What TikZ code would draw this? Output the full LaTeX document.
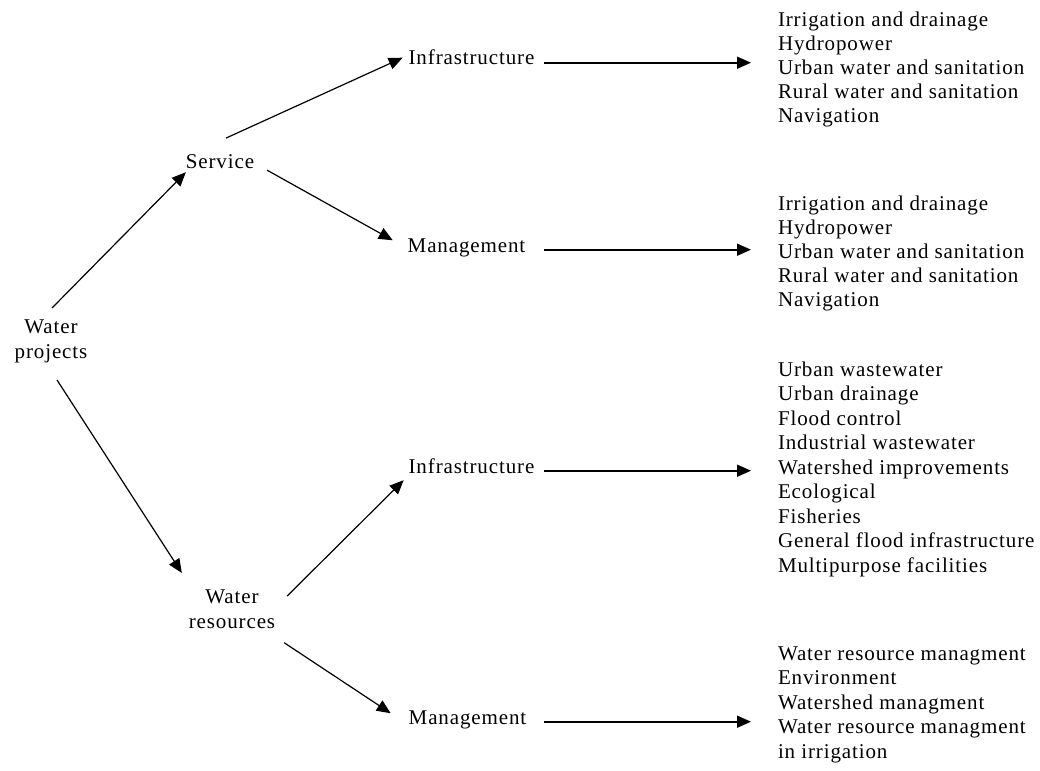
\documentclass[tikz,border=0pt]{standalone}
\usepackage{fontspec}
\setmainfont{Liberation Serif}[LetterSpace=4.2]
\usetikzlibrary{arrows.meta,calc}

\begin{document}
\begin{tikzpicture}[x=1pt,y=-1pt,
  lbl/.style={inner sep=0pt, outer sep=0pt, align=center,
              font=\fontsize{21}{25.5}\selectfont},
  lst/.style={inner sep=0pt, outer sep=0pt, anchor=north west, align=left},
  arr/.style={-{Triangle[length=14pt,width=12pt]}, line width=1.2pt},
  harr/.style={arr, line width=1.6pt, shorten >=27pt}]
\useasboundingbox (0,0) rectangle (1040,770);

% tree labels
\node[lbl, anchor=north] (wp) at (51,317) {\rule{0pt}{16pt}Water\\projects};
\node[lbl, anchor=base] (svc)  at (220,168)   {Service};
\node[lbl, anchor=base] (inf1) at (471.5,65)  {Infrastructure};
\node[lbl, anchor=base] (mg1)  at (466.5,252) {Management};
\node[lbl, anchor=north] (wr) at (232,587) {\rule{0pt}{16pt}Water\\resources};
\node[lbl, anchor=base] (inf2) at (471.5,473) {Infrastructure};
\node[lbl, anchor=base] (mg2)  at (467.5,724) {Management};

% category lists
\node[lst, font=\fontsize{21}{24}\selectfont] (L1) at (778,11)
  {\rule{0pt}{16pt}Irrigation and drainage\\Hydropower\\Urban water and sanitation\\Rural water and sanitation\\Navigation};
\node[lst, font=\fontsize{21}{24}\selectfont] (L2) at (778,194)
  {\rule{0pt}{16pt}Irrigation and drainage\\Hydropower\\Urban water and sanitation\\Rural water and sanitation\\Navigation};
\node[lst, font=\fontsize{21}{24.5}\selectfont] (L3) at (778,360)
  {\rule{0pt}{16pt}Urban wastewater\\Urban drainage\\Flood control\\Industrial wastewater\\Watershed improvements\\Ecological\\Fisheries\\General flood infrastructure\\Multipurpose facilities};
\node[lst, font=\fontsize{21}{24.5}\selectfont] (L4) at (778,644)
  {\rule{0pt}{16pt}Water resource managment\\Environment\\Watershed managment\\Water resource managment\\in irrigation};

% branching arrows
\draw[arr] ($(wp.north)+(1,-9)$)        -- ($(svc.south west)+(0,4)$);
\draw[arr] ($(svc.north)+(6,-16)$)      -- ($(inf1.west)+(-6,0)$);
\draw[arr] ($(svc.south east)+(13,2)$)  -- ($(mg1.north west)+(-15,2)$);
\draw[arr] ($(wp.south)+(6,17)$)        -- ($(wr.north west)+(-7,-14)$);
\draw[arr] ($(wr.north east)+(12,9)$)   -- ($(inf2.south west)+(-5,7)$);
\draw[arr] ($(wr.south east)+(9,14)$)   -- ($(mg2.north west)+(-18,3)$);

% arrows to the lists
\coordinate (hs) at (544,0);
\draw[harr] (inf1.mid east -| hs) -- (inf1.mid east -| L1.west);
\draw[harr] (mg1.mid east -| hs)  -- (mg1.mid east -| L2.west);
\draw[harr] (inf2.mid east -| hs) -- (inf2.mid east -| L3.west);
\draw[harr] (mg2.mid east -| hs)  -- (mg2.mid east -| L4.west);
\end{tikzpicture}
\end{document}
